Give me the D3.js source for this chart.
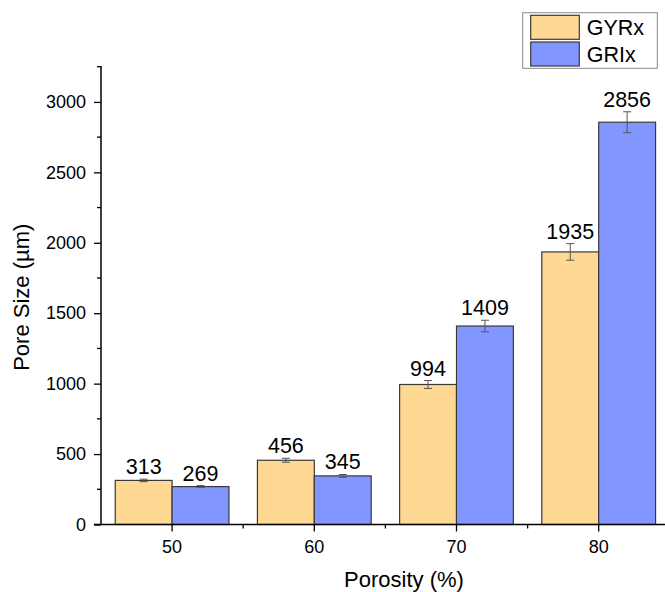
<!DOCTYPE html>
<html>
<head>
<meta charset="utf-8">
<script src="https://cdn.jsdelivr.net/npm/d3@7"></script>
<style>
  html, body { margin: 0; padding: 0; background: #fff; }
  svg { display: block; font-family: "Liberation Sans", Arial, sans-serif; }
</style>
</head>
<body>
<svg id="chart" width="665" height="592"></svg>
<script>
// Porosity levels (%) on the x axis
const categories = ["50", "60", "70", "80"];
const seriesNames = ["GYRx", "GRIx"];
// Mean pore size (µm) per porosity level
const gyrxValues = [313, 456, 994, 1935];
const grixValues = [269, 345, 1409, 2856];
// Standard deviation of pore size (µm)
const gyrxErrors = [9, 14, 28, 59];
const grixErrors = [7, 10, 41, 74];
const yTicks = [0, 500, 1000, 1500, 2000, 2500, 3000];
const yMinorTicks = [250, 750, 1250, 1750, 2250, 2750, 3250];

const colors = { GYRx: "#ffd993", GRIx: "#8197ff" };

const svg = d3.select("#chart");
const plotLeft = 101, plotRight = 669.8, plotBottom = 524.5, plotTop = 66;

const x0 = d3.scaleBand().domain(categories).range([plotLeft, plotRight]).padding(0);
const x1 = d3.scaleBand().domain(seriesNames)
  .range([x0.bandwidth() * 0.1, x0.bandwidth() * 0.9]).padding(0);
const y = d3.scaleLinear().domain([0, 3255]).range([plotBottom, plotTop]);

const rows = categories.map((c, i) => ({
  cat: c,
  items: [
    { key: "GYRx", value: gyrxValues[i], err: gyrxErrors[i] },
    { key: "GRIx", value: grixValues[i], err: grixErrors[i] }
  ]
}));

// Bars
const groups = svg.append("g").selectAll("g").data(rows).join("g")
  .attr("transform", d => `translate(${x0(d.cat)},0)`);

groups.selectAll("rect").data(d => d.items).join("rect")
  .attr("x", d => x1(d.key))
  .attr("y", d => y(d.value))
  .attr("width", x1.bandwidth())
  .attr("height", d => y(0) - y(d.value))
  .attr("fill", d => colors[d.key])
  .attr("stroke", "#3a3a3a")
  .attr("stroke-width", 1.2);

// Error bars
const eb = groups.selectAll("g.err").data(d => d.items).join("g")
  .attr("class", "err")
  .attr("stroke", "#555")
  .attr("stroke-width", 1);
const cx = d => x1(d.key) + x1.bandwidth() / 2;
eb.append("line")
  .attr("x1", cx).attr("x2", cx)
  .attr("y1", d => y(d.value + d.err)).attr("y2", d => y(d.value - d.err));
eb.append("line")
  .attr("x1", d => cx(d) - 4).attr("x2", d => cx(d) + 4)
  .attr("y1", d => y(d.value + d.err)).attr("y2", d => y(d.value + d.err));
eb.append("line")
  .attr("x1", d => cx(d) - 4).attr("x2", d => cx(d) + 4)
  .attr("y1", d => y(d.value - d.err)).attr("y2", d => y(d.value - d.err));

// Value labels
groups.selectAll("text.val").data(d => d.items).join("text")
  .attr("class", "val")
  .attr("x", cx)
  .attr("y", d => y(d.value + d.err) - 5)
  .attr("text-anchor", "middle")
  .attr("font-size", 21.5)
  .attr("fill", "#000")
  .text(d => d.value);

// Y axis
const yAxis = svg.append("g").attr("transform", `translate(${plotLeft},0)`);
yAxis.call(d3.axisLeft(y).tickValues(yTicks).tickSize(7).tickPadding(8).tickFormat(d3.format("d")));
yAxis.append("g").selectAll("line").data(yMinorTicks).join("line")
  .attr("x1", 0).attr("x2", -4)
  .attr("y1", d => y(d)).attr("y2", d => y(d))
  .attr("stroke", "#000").attr("stroke-width", 1.3);
yAxis.select(".domain").attr("d", `M0,${plotBottom}V${plotTop}`);

// X axis
const xAxis = svg.append("g").attr("transform", `translate(0,${plotBottom})`);
xAxis.call(d3.axisBottom(x0).tickSize(7).tickPadding(9));
xAxis.append("g").selectAll("line").data(categories.slice(1)).join("line")
  .attr("x1", d => x0(d)).attr("x2", d => x0(d))
  .attr("y1", 0).attr("y2", 4)
  .attr("stroke", "#000").attr("stroke-width", 1.3);
xAxis.select(".domain").attr("d", `M${plotLeft - 7},0H${plotRight}`);

svg.selectAll(".tick line").attr("stroke", "#000").attr("stroke-width", 1.3);
svg.selectAll(".domain").attr("stroke", "#000").attr("stroke-width", 1.5);
svg.selectAll(".tick text")
  .attr("font-size", 18)
  .attr("font-family", "'Liberation Sans', Arial, sans-serif")
  .attr("fill", "#000");

// Axis titles
svg.append("text")
  .attr("x", 404)
  .attr("y", 587)
  .attr("text-anchor", "middle")
  .attr("font-size", 22)
  .text("Porosity (%)");

svg.append("text")
  .attr("transform", `translate(29,${(plotTop + plotBottom) / 2 + 2}) rotate(-90)`)
  .attr("text-anchor", "middle")
  .attr("font-size", 22)
  .text("Pore Size (µm)");

// Legend
const legend = svg.append("g");
legend.append("rect")
  .attr("x", 522.7).attr("y", 12.7).attr("width", 134.6).attr("height", 55.6)
  .attr("fill", "#fff").attr("stroke", "#888").attr("stroke-width", 1);
legend.selectAll("g.item").data(seriesNames).join("g")
  .attr("class", "item")
  .attr("transform", (d, i) => `translate(530.7,${15.3 + i * 26.7})`)
  .each(function (d) {
    const g = d3.select(this);
    g.append("rect").attr("width", 48.6).attr("height", 24)
      .attr("fill", colors[d]).attr("stroke", "#3a3a3a").attr("stroke-width", 1.2);
    g.append("text").attr("x", 56).attr("y", 20).attr("font-size", 21.5).text(d);
  });
</script>
</body>
</html>
